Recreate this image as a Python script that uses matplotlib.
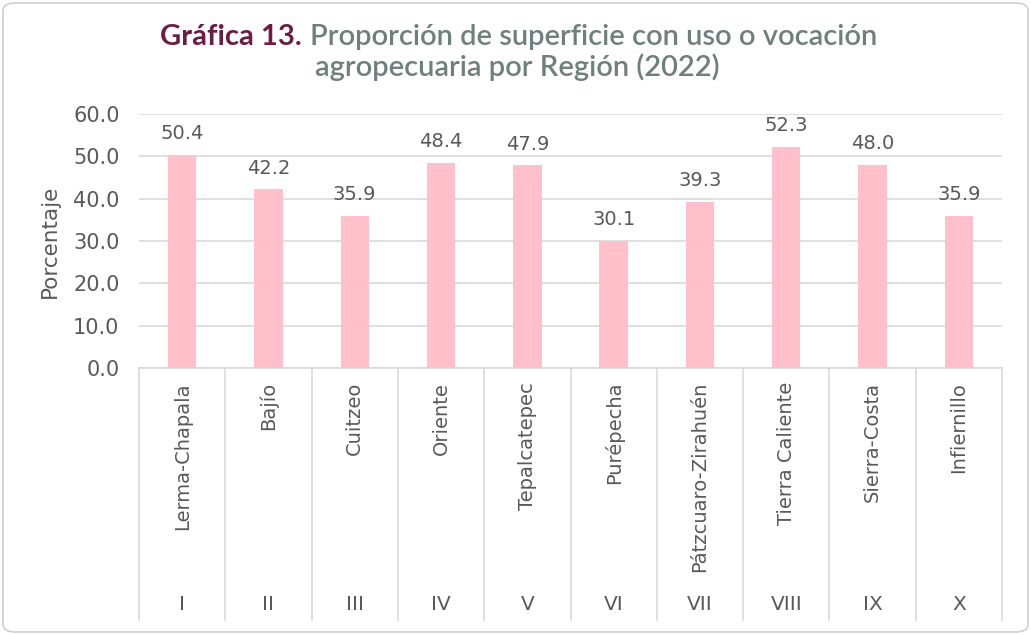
import matplotlib.pyplot as plt
from matplotlib.patches import FancyBboxPatch
from matplotlib.transforms import blended_transform_factory

regiones = ["Lerma-Chapala", "Bajío", "Cuitzeo", "Oriente", "Tepalcatepec",
            "Purépecha", "Pátzcuaro-Zirahuén", "Tierra Caliente", "Sierra-Costa", "Infiernillo"]
numerales = ["I", "II", "III", "IV", "V", "VI", "VII", "VIII", "IX", "X"]
porcentaje = [50.4, 42.2, 35.9, 48.4, 47.9, 30.1, 39.3, 52.3, 48.0, 35.9]
y_ticks = [0, 10, 20, 30, 40, 50, 60]

plt.rcParams['font.family'] = ['DejaVu Sans']
gris_texto = "#595959"
gris_linea = "#d9d9d9"

W, H = 1031, 635
fig = plt.figure(figsize=(W / 100, H / 100), dpi=100)

# marco redondeado
marco = FancyBboxPatch((3 / W, 3 / H), 1 - 6 / W, 1 - 6 / H,
                       boxstyle="round,pad=0,rounding_size=0.012",
                       transform=fig.transFigure, facecolor="none",
                       edgecolor="#d0d0d0", linewidth=1.2)
fig.patches.append(marco)

left, right, top, bottom = 139, 1002, 114, 368
ax = fig.add_axes([left / W, 1 - bottom / H, (right - left) / W, (bottom - top) / H])

x = list(range(len(regiones)))
ax.bar(x, porcentaje, width=0.33, color="#FFC0CB", zorder=3)
for xi, v in zip(x, porcentaje):
    ax.text(xi, v + 5.0, f"{v:.1f}", ha="center", va="center", fontsize=14, color=gris_texto)

ax.set_xlim(-0.5, len(regiones) - 0.5)
ax.set_ylim(0, 60)
ax.set_yticks(y_ticks)
ax.set_yticklabels([f"{t:.1f}" for t in y_ticks], fontsize=15, color=gris_texto)
ax.tick_params(axis="y", length=0, pad=14)
ax.set_xticks([])
ax.grid(axis="y", color=gris_linea, linewidth=1.2, zorder=0)
for s in ["top", "right", "left"]:
    ax.spines[s].set_visible(False)
ax.spines["bottom"].set_color(gris_linea)
ax.spines["bottom"].set_linewidth(1.2)
fig.text(50 / W, 1 - 241 / H, "Porcentaje", rotation=90, ha="center", va="center",
         fontsize=15.5, color=gris_texto)

# eje de categorías en dos niveles
trans = blended_transform_factory(ax.transData, ax.transAxes)
alto = bottom - top
y_fin = -(620 - bottom) / alto
for b in [i - 0.5 for i in range(len(regiones) + 1)]:
    ax.plot([b, b], [0, y_fin], transform=trans, color=gris_linea, linewidth=1.2, clip_on=False)
for xi, nombre, num in zip(x, regiones, numerales):
    ax.text(xi, -(382 - bottom) / alto, nombre, transform=trans, rotation=90,
            ha="center", va="top", fontsize=14, color=gris_texto)
    ax.text(xi, -(605 - bottom) / alto, num, transform=trans,
            ha="center", va="center", fontsize=14.5, color=gris_texto)

# título en dos colores
fig.text(302 / W, 1 - 37 / H, "Gráfica 13.", ha="right", va="center",
         fontsize=21, fontweight="bold", color="#6B1D45", family="Lato")
fig.text(310 / W, 1 - 37 / H, "Proporción de superficie con uso o vocación",
         ha="left", va="center", fontsize=21, fontweight="semibold", color="#6F7F7B", family="Lato")
fig.text(517 / W, 1 - 67 / H, "agropecuaria por Región (2022)", ha="center", va="center",
         fontsize=21, fontweight="semibold", color="#6F7F7B", family="Lato")

fig.savefig("out.png", dpi=100)
